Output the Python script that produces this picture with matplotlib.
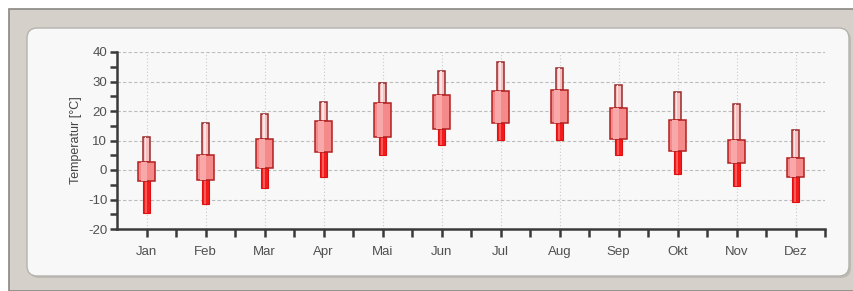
import numpy as np
import matplotlib
matplotlib.use('Agg')
import matplotlib.pyplot as plt
from matplotlib.patches import Rectangle, FancyBboxPatch

plt.rcParams['font.family'] = ['Liberation Sans', 'DejaVu Sans']
plt.rcParams['axes.unicode_minus'] = False

# monthly temperatures (min, lower box, upper box, max)
monate = ['Jan', 'Feb', 'Mar', 'Apr', 'Mai', 'Jun', 'Jul', 'Aug', 'Sep', 'Okt', 'Nov', 'Dez']
t_min = [-14.5, -11.5, -6, -2.5, 5, 8.6, 10.3, 10.3, 5.1, -1.5, -5.4, -11]
t_unten = [-3.7, -3.5, 0.8, 6, 11.2, 14, 15.8, 16, 10.6, 6.6, 2.3, -2.3]
t_oben = [2.6, 5, 10.5, 16.5, 22.8, 25.3, 26.8, 27.2, 20.9, 17.1, 10.3, 4.2]
t_max = [11.2, 16, 19, 23.2, 29.5, 33.5, 36.7, 34.6, 28.9, 26.3, 22.5, 13.5]

fig = plt.figure(figsize=(8.54, 2.91), dpi=100)
W, H = 854, 291

# grauer Rahmen + abgerundetes Panel
fig.patches.append(Rectangle((9 / W, 0), 1, 1 - 9 / H, transform=fig.transFigure,
                             facecolor='#d5d1ca', edgecolor='#8a8884', lw=1.2, zorder=0))
# schatten
fig.patches.append(FancyBboxPatch((29 / W, (H - 278) / H), (849 - 27) / W, (276 - 28) / H,
                                  boxstyle='round,pad=0,rounding_size=0.012',
                                  mutation_aspect=W / H,
                                  transform=fig.transFigure, facecolor='#bdbab4',
                                  edgecolor='none', zorder=1))
fig.patches.append(FancyBboxPatch((27 / W, (H - 276) / H), (849 - 27) / W, (276 - 28) / H,
                                  boxstyle='round,pad=0,rounding_size=0.012',
                                  mutation_aspect=W / H,
                                  transform=fig.transFigure, facecolor='#f8f8f8',
                                  edgecolor='#b5b3ae', lw=1.0, zorder=1))

ax = fig.add_axes([117 / W, (H - 229) / H, (825 - 117) / W, (229 - 52) / H])
ax.set_facecolor('none')
ax.set_zorder(2)

x = np.arange(1, len(monate) + 1)
t_min = np.array(t_min); t_unten = np.array(t_unten)
t_oben = np.array(t_oben); t_max = np.array(t_max)

# oben duenner Balken
ax.bar(x, t_max - t_oben, 0.115, bottom=t_oben, color='#f6c0c0', edgecolor='#9a2a2a', lw=1.1, zorder=3)
ax.bar(x - 0.015, t_max - t_oben, 0.03, bottom=t_oben, color='#fde4e4', lw=0, zorder=3)
# unten roter Balken
ax.bar(x, t_unten - t_min, 0.125, bottom=t_min, color='#f21c1c', edgecolor='#e01010', lw=0.8, zorder=3)
ax.bar(x - 0.01, t_unten - t_min, 0.035, bottom=t_min, color='#ff5a5a', lw=0, zorder=3)
# box
ax.bar(x, t_oben - t_unten, 0.28, bottom=t_unten, color='#f48a8a', edgecolor='#b42020', lw=1.1, zorder=4)
ax.bar(x - 0.04, t_oben - t_unten, 0.1, bottom=t_unten, color='#f8a8a8', lw=0, zorder=4)

ax.set_xlim(0.5, 12.5)
ax.set_ylim(-20, 40)
ax.set_xticks(x)
ax.set_xticks(x + 0.5, minor=True)
ax.set_xticklabels(monate)
ax.set_yticks(np.arange(-20, 41, 10))
ax.set_yticks(np.arange(-15, 40, 10), minor=True)

for v in range(-10, 41, 10):
    ax.axhline(v, color='#bcbcbc', ls=(0, (3, 2)), lw=0.8, zorder=1)
for xi in x:
    ax.axvline(xi, color='#cbcbcb', ls=(0, (1, 2)), lw=0.8, zorder=1)

for s in ['top', 'right']:
    ax.spines[s].set_visible(False)
for s in ['left', 'bottom']:
    ax.spines[s].set_color('#3a3a3a')
    ax.spines[s].set_linewidth(1.8)

ax.tick_params(which='both', colors='#3a3a3a', width=1.8, length=5, labelcolor='#505050', labelsize=9.5)
ax.tick_params(axis='x', which='both', length=6, pad=6)
ax.tick_params(axis='y', pad=2)
ax.set_ylabel('Temperatur [°C]', color='#444444', fontsize=9, labelpad=4)

fig.savefig('out.png', dpi=100)
